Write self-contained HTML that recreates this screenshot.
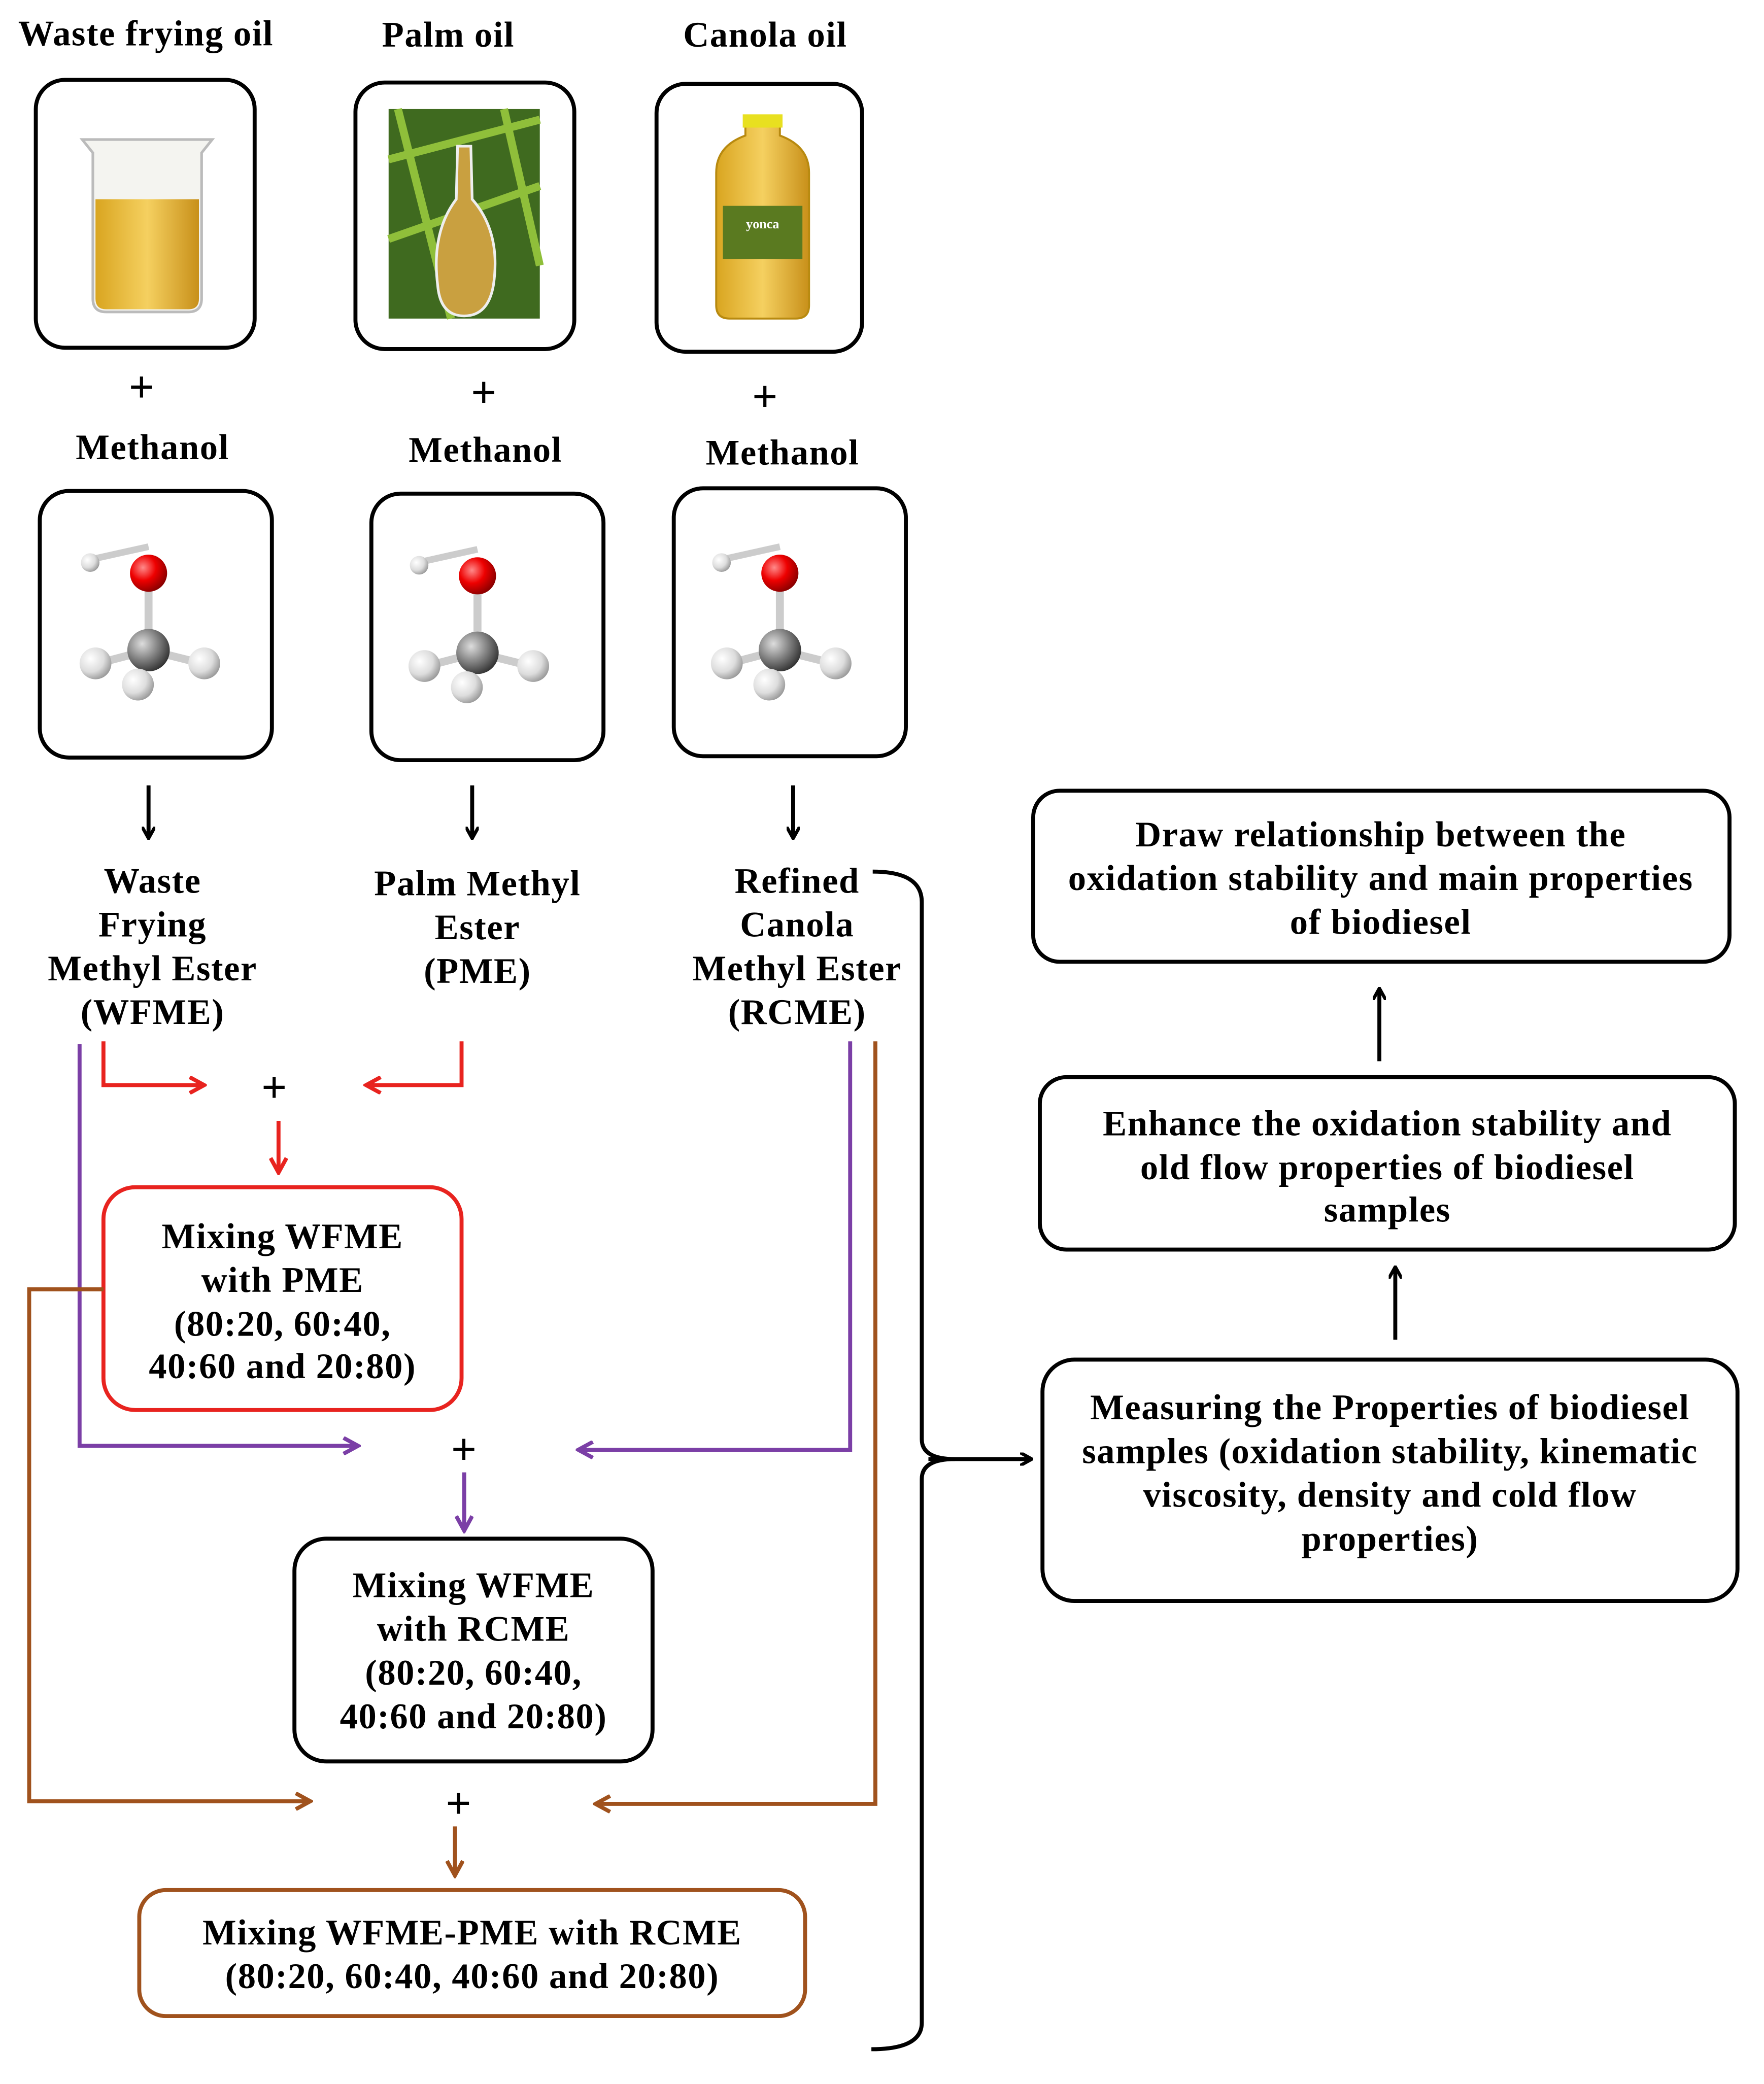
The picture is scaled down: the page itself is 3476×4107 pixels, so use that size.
<!DOCTYPE html>
<html><head><meta charset="utf-8"><style>html,body{margin:0;padding:0;background:#fff}svg{display:block}</style></head>
<body>
<svg width="3476" height="4107" viewBox="0 0 1330 1571" xmlns="http://www.w3.org/2000/svg" font-family="Liberation Serif, serif" font-weight="bold" font-size="27" letter-spacing="0.6" text-anchor="middle">
<defs>
<radialGradient id="gr" cx="0.35" cy="0.35" r="0.7"><stop offset="0" stop-color="#ff8a8a"/><stop offset="0.5" stop-color="#e00"/><stop offset="1" stop-color="#800"/></radialGradient>
<radialGradient id="gg" cx="0.35" cy="0.35" r="0.7"><stop offset="0" stop-color="#ddd"/><stop offset="0.5" stop-color="#888"/><stop offset="1" stop-color="#333"/></radialGradient>
<radialGradient id="gw" cx="0.35" cy="0.35" r="0.7"><stop offset="0" stop-color="#fff"/><stop offset="0.6" stop-color="#ddd"/><stop offset="1" stop-color="#999"/></radialGradient>
<linearGradient id="oil" x1="0" x2="1"><stop offset="0" stop-color="#d9a520"/><stop offset="0.5" stop-color="#f5d060"/><stop offset="1" stop-color="#c8901a"/></linearGradient>
<marker id="ak" markerWidth="10" markerHeight="10" refX="8" refY="5" orient="auto" markerUnits="userSpaceOnUse"><path d="M0,0 L9,5 L0,10" fill="none" stroke="#000" stroke-width="2.5"/></marker>
<marker id="ar" markerWidth="14" markerHeight="14" refX="12" refY="7" orient="auto" markerUnits="userSpaceOnUse"><path d="M1,1 L12,7 L1,13" fill="none" stroke="#e8231f" stroke-width="3"/></marker>
<marker id="ap" markerWidth="14" markerHeight="14" refX="12" refY="7" orient="auto" markerUnits="userSpaceOnUse"><path d="M1,1 L12,7 L1,13" fill="none" stroke="#7b3fa6" stroke-width="3"/></marker>
<marker id="ab" markerWidth="14" markerHeight="14" refX="12" refY="7" orient="auto" markerUnits="userSpaceOnUse"><path d="M1,1 L12,7 L1,13" fill="none" stroke="#a0521d" stroke-width="3"/></marker>
<g id="mol">
<line x0="0" x1="-45" y1="-10" y2="-20" stroke="#ccc" stroke-width="5"/>
<line x1="0" y1="0" x2="0" y2="58" stroke="#ccc" stroke-width="6"/>
<line x1="0" y1="58" x2="-38" y2="68" stroke="#ccc" stroke-width="6"/>
<line x1="0" y1="58" x2="40" y2="68" stroke="#ccc" stroke-width="6"/>
<line x1="0" y1="58" x2="-8" y2="82" stroke="#ccc" stroke-width="6"/>
<circle cx="-44" cy="-8" r="7" fill="url(#gw)"/>
<circle cx="0" cy="0" r="14" fill="url(#gr)"/>
<circle cx="-40" cy="68" r="12" fill="url(#gw)"/>
<circle cx="42" cy="68" r="12" fill="url(#gw)"/>
<circle cx="0" cy="58" r="16" fill="url(#gg)"/>
<circle cx="-8" cy="84" r="12" fill="url(#gw)"/>
</g>
</defs>
<g fill="none" stroke="#000" stroke-width="3">
<rect x="27" y="60" width="165" height="202" rx="22"/>
<rect x="268" y="62" width="165" height="201" rx="22"/>
<rect x="495" y="63" width="155" height="202" rx="22"/>
<rect x="30" y="370" width="175" height="201" rx="22"/>
<rect x="280" y="372" width="175" height="201" rx="22"/>
<rect x="508" y="368" width="175" height="202" rx="22"/>
<rect x="222" y="1160" width="270" height="168" rx="24"/>
<rect x="779" y="596" width="525" height="129" rx="20"/>
<rect x="784" y="812" width="524" height="130" rx="20"/>
<rect x="786" y="1025" width="524" height="182" rx="24"/>
</g>
<path d="M62,105 L160,105 L152,115 L152,225 Q152,235 142,235 L80,235 Q70,235 70,225 L70,115 Z" fill="#f4f4f0" stroke="#bbb" stroke-width="2"/>
<path d="M72,150 L150,150 L150,225 Q150,233 142,233 L80,233 Q72,233 72,225 Z" fill="url(#oil)"/>
<rect x="293" y="82" width="114" height="158" fill="#3f6a1f"/>
<path d="M293,120 L407,90 M293,180 L407,140 M300,82 L340,240 M380,82 L407,200" stroke="#8fbf3a" stroke-width="6"/>
<path d="M345,110 L355,110 L356,150 Q378,175 372,215 Q368,238 350,238 Q332,238 330,215 Q325,175 344,150 Z" fill="#c9a040" stroke="#eee" stroke-width="2"/>
<path d="M562,88 L588,88 L588,102 Q610,110 610,130 L610,230 Q610,240 600,240 L550,240 Q540,240 540,230 L540,130 Q540,110 562,102 Z" fill="url(#oil)" stroke="#b88a10" stroke-width="1.5"/>
<rect x="560" y="86" width="30" height="10" fill="#e8e020"/>
<rect x="545" y="155" width="60" height="40" fill="#5a7a20"/>
<text x="575" y="172" font-size="10" letter-spacing="0" fill="#fff">yonca</text>
<use href="#mol" x="112" y="432"/>
<use href="#mol" x="360" y="434"/>
<use href="#mol" x="588" y="432"/>
<g fill="#000">
<text x="110" y="34">Waste frying oil</text>
<text x="338" y="35">Palm oil</text>
<text x="577" y="35">Canola oil</text>
<text x="107" y="303" font-size="34">+</text>
<text x="365" y="307" font-size="34">+</text>
<text x="577" y="310" font-size="34">+</text>
<text x="115" y="346">Methanol</text>
<text x="366" y="348">Methanol</text>
<text x="590" y="350">Methanol</text>
<text x="115" y="673">Waste</text><text x="115" y="706">Frying</text><text x="115" y="739">Methyl Ester</text><text x="115" y="772">(WFME)</text>
<text x="360" y="675">Palm Methyl</text><text x="360" y="708">Ester</text><text x="360" y="741">(PME)</text>
<text x="601" y="673">Refined</text><text x="601" y="706">Canola</text><text x="601" y="739">Methyl Ester</text><text x="601" y="772">(RCME)</text>
<text x="207" y="831" font-size="34">+</text>
<text x="350" y="1104" font-size="34">+</text>
<text x="346" y="1371" font-size="34">+</text>
<text x="213" y="941">Mixing WFME</text><text x="213" y="974">with PME</text><text x="213" y="1007">(80:20, 60:40,</text><text x="213" y="1039">40:60 and 20:80)</text>
<text x="357" y="1204">Mixing WFME</text><text x="357" y="1237">with RCME</text><text x="357" y="1270">(80:20, 60:40,</text><text x="357" y="1303">40:60 and 20:80)</text>
<text x="356" y="1466">Mixing WFME-PME with RCME</text><text x="356" y="1499">(80:20, 60:40, 40:60 and 20:80)</text>
<text x="1041" y="638">Draw relationship between the</text><text x="1041" y="671">oxidation stability and main properties</text><text x="1041" y="704">of biodiesel</text>
<text x="1046" y="856">Enhance the oxidation stability and</text><text x="1046" y="889">old flow properties of biodiesel</text><text x="1046" y="921">samples</text>
<text x="1048" y="1070">Measuring the Properties of biodiesel</text><text x="1048" y="1103">samples (oxidation stability, kinematic</text><text x="1048" y="1136">viscosity, density and cold flow</text><text x="1048" y="1169">properties)</text>
</g>
<g fill="none" stroke="#000" stroke-width="3">
<line x1="112" y1="592" x2="112" y2="631" marker-end="url(#ak)"/>
<line x1="356" y1="592" x2="356" y2="631" marker-end="url(#ak)"/>
<line x1="598" y1="592" x2="598" y2="631" marker-end="url(#ak)"/>
<line x1="1040" y1="800" x2="1040" y2="746" marker-end="url(#ak)"/>
<line x1="1052" y1="1010" x2="1052" y2="956" marker-end="url(#ak)"/>
<line x1="700" y1="1100" x2="777" y2="1100" marker-end="url(#ak)"/>
<path d="M658,657 Q695,657 695,680 L695,1085 Q695,1100 720,1100 Q695,1100 695,1115 L695,1525 Q695,1545 657,1545"/>
</g>
<g fill="none" stroke="#e8231f" stroke-width="3">
<rect x="78" y="895" width="270" height="168" rx="24"/>
<path d="M78,785 L78,818 L154,818" marker-end="url(#ar)"/>
<path d="M348,785 L348,818 L276,818" marker-end="url(#ar)"/>
<path d="M210,845 L210,884" marker-end="url(#ar)"/>
</g>
<g fill="none" stroke="#7b3fa6" stroke-width="3">
<path d="M60,787 L60,1090 L270,1090" marker-end="url(#ap)"/>
<path d="M641,785 L641,1093 L436,1093" marker-end="url(#ap)"/>
<path d="M350,1110 L350,1154" marker-end="url(#ap)"/>
</g>
<g fill="none" stroke="#a0521d" stroke-width="3">
<rect x="105" y="1425" width="502" height="95" rx="20"/>
<path d="M78,972 L22,972 L22,1358 L234,1358" marker-end="url(#ab)"/>
<path d="M660,785 L660,1360 L449,1360" marker-end="url(#ab)"/>
<path d="M343,1377 L343,1414" marker-end="url(#ab)"/>
</g>
</svg>
</body></html>
